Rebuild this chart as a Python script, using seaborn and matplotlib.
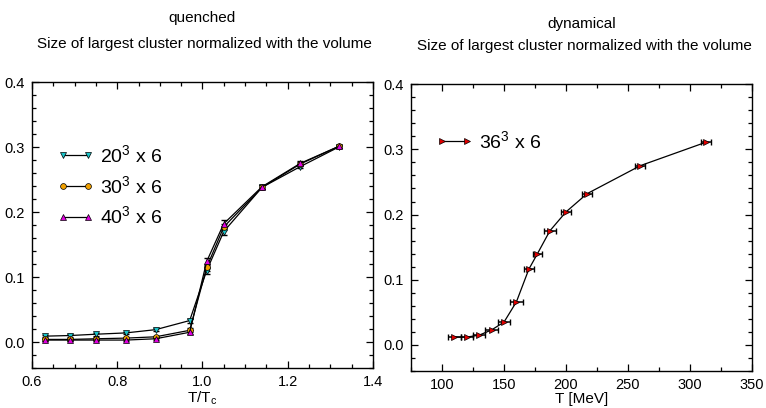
import matplotlib
matplotlib.use("Agg")
import matplotlib.pyplot as plt
import pandas as pd
import seaborn as sns
from matplotlib.ticker import MultipleLocator

# ----------------------------------------------------------
# Data
# ----------------------------------------------------------

T_RATIO = [0.63, 0.69, 0.75, 0.82, 0.89, 0.97, 1.01, 1.05, 1.14, 1.23, 1.32]

CLUSTER_20 = [0.009, 0.010, 0.012, 0.014, 0.019, 0.033, 0.110, 0.170, 0.238, 0.270, 0.300]
CLUSTER_30 = [0.004, 0.004, 0.005, 0.006, 0.008, 0.018, 0.115, 0.177, 0.238, 0.274, 0.301]
CLUSTER_40 = [0.003, 0.003, 0.003, 0.003, 0.005, 0.015, 0.124, 0.182, 0.239, 0.275, 0.301]
ERR_QUENCHED = [0.002, 0.002, 0.002, 0.002, 0.002, 0.003, 0.005, 0.005, 0.003, 0.003, 0.002]

T_MEV = [110, 120, 130, 140, 150, 160, 170, 177, 187, 200, 217, 260, 313]
CLUSTER_36 = [0.012, 0.012, 0.015, 0.023, 0.035, 0.066, 0.116, 0.140, 0.175,
              0.204, 0.232, 0.275, 0.311]
T_ERR = [5, 5, 5, 5, 5, 5, 4, 4, 5, 4, 4, 4, 4]

QUENCHED_SERIES = [
    (r"$\mathregular{20^3}$ x 6", CLUSTER_20, "v", "#19c3c8"),
    (r"$\mathregular{30^3}$ x 6", CLUSTER_30, "o", "#f0a000"),
    (r"$\mathregular{40^3}$ x 6", CLUSTER_40, "^", "#e000e0"),
]

SUBTITLE = "Size of largest cluster normalized with the volume"

# ----------------------------------------------------------
# Style
# ----------------------------------------------------------

sns.set_theme(style="ticks")
plt.rcParams["font.family"] = ["Liberation Sans", "DejaVu Sans"]
plt.rcParams["mathtext.fontset"] = "custom"
plt.rcParams["mathtext.rm"] = "Liberation Sans"
for key in ["text.color", "axes.labelcolor", "xtick.color", "ytick.color"]:
    plt.rcParams[key] = "black"


def style_axes(ax):
    ax.tick_params(which="both", direction="in", top=True, right=True,
                   labelsize=10.5, width=0.9, pad=5)
    ax.tick_params(which="major", length=5)
    ax.tick_params(which="minor", length=3)
    for spine in ax.spines.values():
        spine.set_linewidth(1.0)
        spine.set_color("black")


fig = plt.figure(figsize=(7.66, 4.08), dpi=100)

# ----------------------------------------------------------
# Left panel: quenched
# ----------------------------------------------------------

ax1 = fig.add_axes([0.0418, 0.098, 0.445, 0.701])

for label, values, marker, colour in QUENCHED_SERIES:
    df = pd.DataFrame({"t": T_RATIO, "size": values})
    ax1.errorbar(T_RATIO, values, yerr=ERR_QUENCHED, fmt="none",
                 ecolor="black", elinewidth=0.8, capsize=2.5, zorder=2)
    sns.lineplot(data=df, x="t", y="size", ax=ax1, color="black",
                 linewidth=0.9, marker=marker, markersize=4.2,
                 markerfacecolor=colour, markeredgecolor="black",
                 markeredgewidth=0.5, label=label, zorder=3)

ax1.set_xlim(0.6, 1.4)
ax1.set_ylim(-0.04, 0.4)
ax1.xaxis.set_major_locator(MultipleLocator(0.2))
ax1.xaxis.set_minor_locator(MultipleLocator(0.05))
ax1.yaxis.set_major_locator(MultipleLocator(0.1))
ax1.yaxis.set_minor_locator(MultipleLocator(0.02))
ax1.xaxis.set_major_formatter(plt.FormatStrFormatter("%.1f"))
ax1.yaxis.set_major_formatter(plt.FormatStrFormatter("%.1f"))
ax1.set_xlabel(r"T/T$_\mathregular{c}$", fontsize=11, labelpad=0)
ax1.set_ylabel("")
style_axes(ax1)

ax1.legend(loc="upper left", bbox_to_anchor=(0.05, 0.81), frameon=False,
           fontsize=14, numpoints=2, handlelength=1.9, handletextpad=0.3,
           labelspacing=0.45, borderaxespad=0)

fig.text(0.264, 0.955, "quenched", ha="center", va="center", fontsize=11)
fig.text(0.267, 0.893, SUBTITLE, ha="center", va="center", fontsize=11)

# ----------------------------------------------------------
# Right panel: dynamical
# ----------------------------------------------------------

ax2 = fig.add_axes([0.5366, 0.0907, 0.445, 0.703])

dyn = pd.DataFrame({"t": T_MEV, "size": CLUSTER_36})
ax2.errorbar(T_MEV, CLUSTER_36, xerr=T_ERR, fmt="none", ecolor="black",
             elinewidth=1.1, capsize=2.5, zorder=2)
sns.lineplot(data=dyn, x="t", y="size", ax=ax2, color="black",
             linewidth=0.9, marker=">", markersize=4.2,
             markerfacecolor="#e00000", markeredgecolor="black",
             markeredgewidth=0.5, label=r"$\mathregular{36^3}$ x 6", zorder=3)

ax2.set_xlim(75, 350)
ax2.set_ylim(-0.04, 0.4)
ax2.xaxis.set_major_locator(MultipleLocator(50))
ax2.xaxis.set_minor_locator(MultipleLocator(25))
ax2.yaxis.set_major_locator(MultipleLocator(0.1))
ax2.yaxis.set_minor_locator(MultipleLocator(0.02))
ax2.yaxis.set_major_formatter(plt.FormatStrFormatter("%.1f"))
ax2.set_xlabel("T [MeV]", fontsize=11, labelpad=0)
ax2.set_ylabel("")
style_axes(ax2)

ax2.legend(loc="upper left", bbox_to_anchor=(0.05, 0.868), frameon=False,
           fontsize=14, numpoints=2, handlelength=1.9, handletextpad=0.3,
           borderaxespad=0)

fig.text(0.759, 0.942, "dynamical", ha="center", va="center", fontsize=11)
fig.text(0.763, 0.887, SUBTITLE, ha="center", va="center", fontsize=11)

fig.savefig("out.png", dpi=100)
